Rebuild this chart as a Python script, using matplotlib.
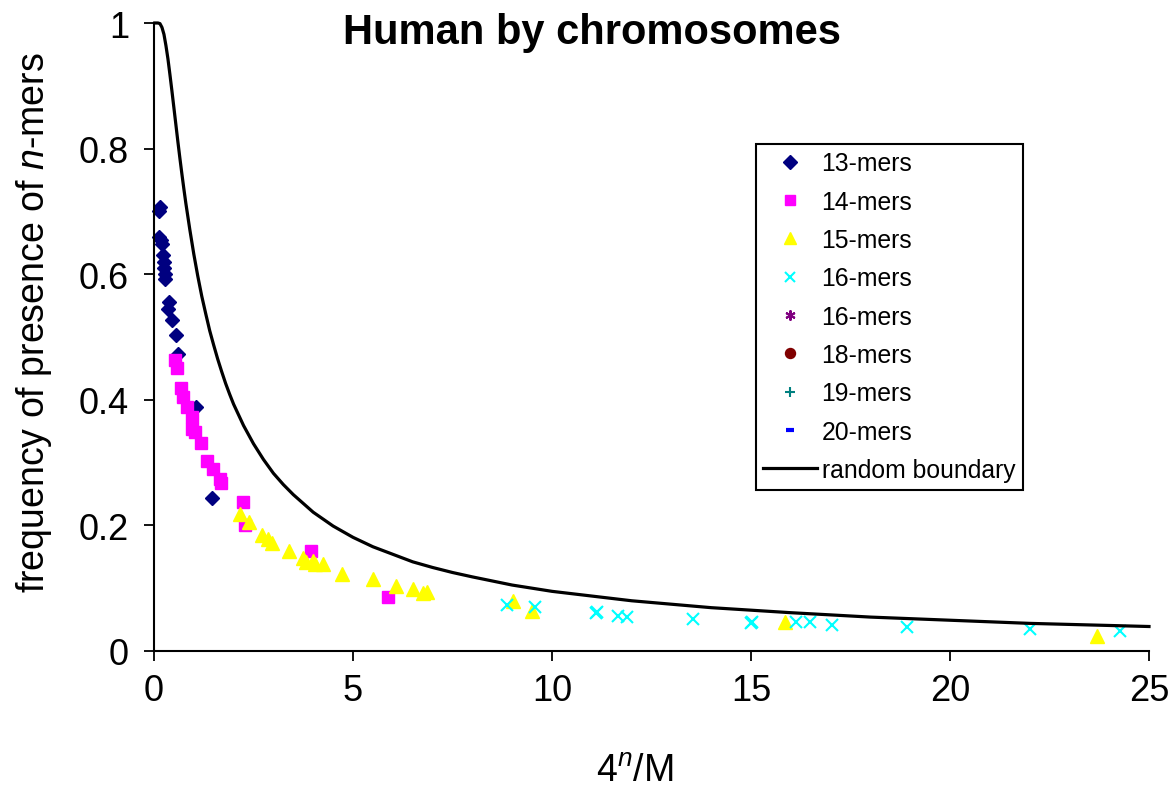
import matplotlib
matplotlib.use("Agg")
from matplotlib import pyplot as plt

plt.rcParams['font.family'] = ['Liberation Sans', 'DejaVu Sans']
plt.rcParams['mathtext.fontset'] = 'custom'
plt.rcParams['mathtext.rm'] = 'Liberation Sans'
plt.rcParams['mathtext.it'] = 'Liberation Sans:italic'

# 13-mers
n13_x = [0.15, 0.13, 0.12, 0.17, 0.20, 0.22, 0.24, 0.25, 0.28, 0.27, 0.38, 0.35, 0.45, 0.55, 0.60, 1.05, 1.46]
n13_y = [0.707, 0.700, 0.660, 0.655, 0.648, 0.630, 0.620, 0.610, 0.600, 0.592, 0.555, 0.545, 0.527, 0.503, 0.473, 0.388, 0.244]
# 14-mers
n14_x = [0.53, 0.58, 0.68, 0.73, 0.83, 0.95, 0.95, 1.03, 1.18, 1.33, 1.48, 1.66, 1.68, 2.24, 2.29, 3.94, 5.88]
n14_y = [0.463, 0.450, 0.418, 0.405, 0.389, 0.373, 0.354, 0.349, 0.332, 0.303, 0.290, 0.274, 0.268, 0.238, 0.200, 0.160, 0.086]
# 15-mers
n15_x = [2.16, 2.39, 2.71, 2.86, 2.96, 3.39, 3.74, 3.82, 3.99, 4.05, 4.25, 4.72, 5.50, 6.08, 6.50, 6.75, 6.86, 9.02, 9.50, 15.85, 23.70]
n15_y = [0.218, 0.205, 0.184, 0.179, 0.172, 0.160, 0.148, 0.142, 0.144, 0.139, 0.139, 0.123, 0.115, 0.104, 0.099, 0.092, 0.094, 0.080, 0.064, 0.046, 0.024]
# 16-mers
n16_x = [8.87, 9.57, 11.13, 11.10, 11.66, 11.88, 13.55, 15.03, 15.00, 16.13, 16.48, 17.04, 18.92, 22.00, 24.27]
n16_y = [0.073, 0.070, 0.062, 0.060, 0.056, 0.054, 0.051, 0.046, 0.045, 0.046, 0.046, 0.042, 0.038, 0.035, 0.032]

# random boundary curve
bound_x = [0.02, 0.1, 0.15, 0.2, 0.25, 0.3, 0.35, 0.4, 0.45, 0.5, 0.55, 0.6, 0.65, 0.7, 0.75, 0.8, 0.9, 1.0,
           1.1, 1.2, 1.3, 1.4, 1.5, 1.6, 1.7, 1.8, 1.9, 2.0, 2.25, 2.5, 2.75, 3.0, 3.25, 3.5, 4.0, 4.5, 5.0,
           5.5, 6.0, 6.5, 7.0, 7.5, 8.0, 9.0, 10.0, 12.0, 14.0, 16.0, 18.0, 20.0, 22.0, 25.0]
bound_y = [1.0, 1.0, 0.999, 0.993, 0.982, 0.964, 0.943, 0.918, 0.892, 0.865, 0.838, 0.811, 0.785, 0.760, 0.736, 0.713, 0.671, 0.632,
           0.597, 0.565, 0.537, 0.510, 0.487, 0.465, 0.445, 0.426, 0.409, 0.393, 0.359, 0.330, 0.305, 0.283, 0.265, 0.249, 0.221, 0.199, 0.181,
           0.166, 0.154, 0.142, 0.133, 0.125, 0.118, 0.105, 0.095, 0.080, 0.069, 0.061, 0.054, 0.049, 0.044, 0.039]

fig = plt.figure(figsize=(11.76, 8.04), dpi=100)
ax = fig.add_axes([154/1176, 1-652/804, 995/1176, 628/804])

ax.plot(n13_x, n13_y, ls='none', marker='D', ms=7.5, color='#000080', label='13-mers', clip_on=False)
ax.plot(n14_x, n14_y, ls='none', marker='s', ms=8.5, color='#FF00FF', label='14-mers', clip_on=False)
ax.plot(n15_x, n15_y, ls='none', marker='^', ms=10, color='#FFFF00', label='15-mers', clip_on=False)
ax.plot(n16_x, n16_y, ls='none', marker='x', ms=8, mew=1.5, color='#00FFFF', label='16-mers', clip_on=False)
# series in the legend with no visible points
ax.plot([], [], ls='none', marker=(6, 2, 0), ms=8, mew=1.5, color='#800080', label='16-mers')
ax.plot([], [], ls='none', marker='o', ms=8, color='#800000', label='18-mers')
ax.plot([], [], ls='none', marker='+', ms=8, mew=1.5, color='#008080', label='19-mers')
ax.plot([], [], ls='none', marker='_', ms=7, mew=3, color='#0000FF', label='20-mers')
ax.plot(bound_x, bound_y, color='black', lw=2.3, label='random boundary', clip_on=False)

ax.set_xlim(0, 25)
ax.set_ylim(0, 1)
ax.set_xticks([0, 5, 10, 15, 20, 25])
ax.set_yticks([0, 0.2, 0.4, 0.6, 0.8, 1.0])
ax.set_yticklabels(['0', '0.2', '0.4', '0.6', '0.8', '1'])
ax.tick_params(direction='out', length=7, width=1.3, labelsize=26, colors='black')
ax.tick_params(axis='x', pad=9)
ax.tick_params(axis='y', pad=11)
for s in ['top', 'right']:
    ax.spines[s].set_visible(False)
for s in ['left', 'bottom']:
    ax.spines[s].set_linewidth(1.5)

ax.set_ylabel('frequency of presence of $n$-mers', fontsize=27)
ax.set_xlabel('4$^{n}$/M', fontsize=27)
ax.yaxis.set_label_coords(-0.1, 0.525)
ax.xaxis.set_label_coords(0.483, -0.162)

fig.text(0.503, 1-33/804, 'Human by chromosomes', fontsize=30, fontweight='bold',
         ha='center', va='center')

leg = ax.legend(loc='upper left', bbox_to_anchor=(756/1176, 1-145/804), bbox_transform=fig.transFigure,
                fontsize=17.8, frameon=True, fancybox=False, edgecolor='black', framealpha=1,
                borderaxespad=0, borderpad=0.3, handlelength=2.15, handletextpad=0.2,
                labelspacing=0.58, markerscale=0.9)
leg.get_frame().set_linewidth(1.5)

fig.savefig('out.png', dpi=100)
